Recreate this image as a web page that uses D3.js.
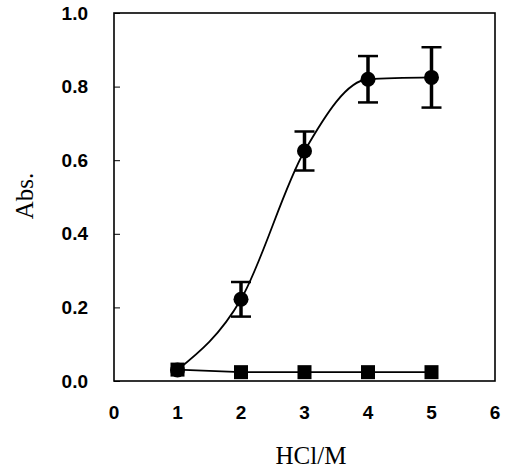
<!DOCTYPE html>
<html>
<head>
<meta charset="utf-8">
<script src="https://cdn.jsdelivr.net/npm/d3@7"></script>
<style>
  body { margin: 0; background: #fff; }
  svg { display: block; }
</style>
</head>
<body>
<div id="chart"></div>
<script>
// ---------------- DATA ----------------
const hcl = [1, 2, 3, 4, 5];
const absCircle = [0.03, 0.222, 0.625, 0.82, 0.825];
const errCircle = [0, 0.047, 0.053, 0.063, 0.082];
const absSquare = [0.031, 0.024, 0.024, 0.024, 0.024];
const xTicks = [0, 1, 2, 3, 4, 5, 6];
const yTicks = [0.0, 0.2, 0.4, 0.6, 0.8, 1.0];

const width = 507, height = 468;
const margin = {top: 13, right: 12, bottom: 87, left: 114};

const svg = d3.select("#chart").append("svg")
  .attr("width", width)
  .attr("height", height);

const x = d3.scaleLinear().domain([0, 6]).range([margin.left, width - margin.right]);
const y = d3.scaleLinear().domain([0, 1]).range([height - margin.bottom, margin.top]);

// ---------------- FRAME ----------------
svg.append("rect")
  .attr("x", x(0)).attr("y", y(1))
  .attr("width", x(6) - x(0)).attr("height", y(0) - y(1))
  .attr("fill", "none")
  .attr("stroke", "#000")
  .attr("stroke-width", 1.6);

// y axis: inward ticks
const yAxis = svg.append("g")
  .attr("transform", `translate(${x(0)},0)`)
  .call(d3.axisRight(y).tickValues(yTicks).tickSize(6).tickFormat(""));
yAxis.select(".domain").remove();
yAxis.selectAll("line").attr("stroke", "#000").attr("stroke-width", 1);

svg.append("g").selectAll("text")
  .data(yTicks)
  .enter().append("text")
  .attr("x", x(0) - 26)
  .attr("y", d => y(d))
  .attr("text-anchor", "end")
  .attr("dominant-baseline", "central")
  .style("font-family", "Liberation Sans, Arial, sans-serif")
  .style("font-size", "19px")
  .style("font-weight", "bold")
  .text(d => d.toFixed(1));

svg.append("g").selectAll("text")
  .data(xTicks)
  .enter().append("text")
  .attr("x", d => x(d))
  .attr("y", y(0) + 38)
  .attr("text-anchor", "middle")
  .style("font-family", "Liberation Sans, Arial, sans-serif")
  .style("font-size", "19px")
  .style("font-weight", "bold")
  .text(d => d);

// axis titles
svg.append("text")
  .attr("x", 311)
  .attr("y", 464)
  .attr("text-anchor", "middle")
  .style("font-family", "Liberation Serif, Times New Roman, serif")
  .style("font-size", "25px")
  .text("HCl/M");

svg.append("text")
  .attr("transform", "translate(33,196) rotate(-90)")
  .attr("text-anchor", "middle")
  .style("font-family", "Liberation Serif, Times New Roman, serif")
  .style("font-size", "25px")
  .text("Abs.");

// ---------------- SERIES ----------------
const circles = hcl.map((h, i) => ({x: h, y: absCircle[i], e: errCircle[i]}));
const squares = hcl.map((h, i) => ({x: h, y: absSquare[i]}));

svg.append("path")
  .datum(circles)
  .attr("d", d3.line().x(d => x(d.x)).y(d => y(d.y)).curve(d3.curveMonotoneX))
  .attr("fill", "none")
  .attr("stroke", "#000")
  .attr("stroke-width", 1.8);

svg.append("path")
  .datum(squares)
  .attr("d", d3.line().x(d => x(d.x)).y(d => y(d.y)))
  .attr("fill", "none")
  .attr("stroke", "#000")
  .attr("stroke-width", 1.8);

// error bars
const eb = svg.append("g").selectAll("g")
  .data(circles.filter(d => d.e > 0))
  .enter().append("g")
  .attr("stroke", "#000");
eb.append("line")
  .attr("x1", d => x(d.x)).attr("x2", d => x(d.x))
  .attr("y1", d => y(d.y + d.e)).attr("y2", d => y(d.y - d.e))
  .attr("stroke-width", 3.5);
eb.append("line")
  .attr("x1", d => x(d.x) - 10).attr("x2", d => x(d.x) + 10)
  .attr("y1", d => y(d.y + d.e)).attr("y2", d => y(d.y + d.e))
  .attr("stroke-width", 2.5);
eb.append("line")
  .attr("x1", d => x(d.x) - 10).attr("x2", d => x(d.x) + 10)
  .attr("y1", d => y(d.y - d.e)).attr("y2", d => y(d.y - d.e))
  .attr("stroke-width", 2.5);

svg.append("g").selectAll("circle")
  .data(circles)
  .enter().append("circle")
  .attr("cx", d => x(d.x))
  .attr("cy", d => y(d.y))
  .attr("r", 7.5)
  .attr("fill", "#000");

svg.append("g").selectAll("rect")
  .data(squares)
  .enter().append("rect")
  .attr("x", d => x(d.x) - 7)
  .attr("y", d => y(d.y) - 7)
  .attr("width", 14)
  .attr("height", 14)
  .attr("fill", "#000");
</script>
</body>
</html>
